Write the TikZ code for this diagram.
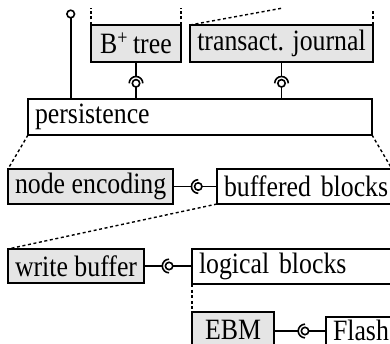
\documentclass[tikz,border=0pt]{standalone}
\usepackage{fontspec}
\setmainfont{Liberation Serif}[FakeStretch=0.875]
\usetikzlibrary{calc}
\newcommand\boxfont{\fontsize{29.5}{33}\selectfont}
\begin{document}
\begin{tikzpicture}[x=1pt,y=-1pt,
  every node/.style={font=\boxfont},
  box/.style={draw, line width=1.6pt, inner xsep=7pt, inner ysep=0pt, outer sep=0pt, anchor=north west},
  gbox/.style={box, fill=gray!20},
  wbox/.style={box, fill=white, align=left},
  conn/.style={line width=1.6pt},
  zoomline/.style={line width=1.4pt, dash pattern=on 3pt off 2.6pt}]
\useasboundingbox (0,0) rectangle (390,344);
\clip (0,0) rectangle (390,344);

% boxes
\node[gbox, minimum width=90pt, minimum height=37pt] (btree) at (91,25) {B\textsuperscript{+}\,tree};
\node[gbox, minimum width=183pt, minimum height=37pt] (tj) at (190,25) {transact. journal};
\node[wbox, text width=330pt, minimum height=36pt] (pers) at (28,99) {persistence};
\node[gbox, minimum width=164pt, minimum height=35pt] (ne) at (8,169) {node encoding};
\node[wbox, text width=161pt, minimum height=35pt] (bb) at (217,169) {\mbox{buffered blocks}};
\node[gbox, minimum width=135pt, minimum height=34pt] (wb) at (8,249) {write buffer};
\node[wbox, text width=194pt, minimum height=35pt] (lb) at (192,249) {logical blocks};
\node[gbox, minimum width=82pt, minimum height=36pt] (ebm) at (192,312) {EBM};
\node[wbox, text width=60pt, minimum height=36pt, text height=20pt, text depth=10pt] (flash) at (326,317) {Flash};

% zoom lines
\coordinate (t1) at (91,8);
\coordinate (t2) at (181,8);
\coordinate (t3) at (283,8);
\coordinate (t4) at (373,10);
\draw[zoomline] (btree.north west) -- (t1);
\draw[zoomline] (btree.north east) -- (t2);
\draw[zoomline] (tj.north west) -- (t3);
\draw[zoomline] (tj.north east) -- (t4);
\draw[zoomline] (pers.south west) -- (ne.north west);
\draw[zoomline] (pers.south east) -- (bb.north east);
\draw[zoomline] (bb.south west) -- (wb.north west);
\draw[zoomline] (lb.south west) -- (ebm.north west);

% lollipop on persistence
\coordinate (lp) at (70.7,14);
\draw[conn] (lp |- pers.north) -- ([yshift=-3.8pt]lp);
\draw[conn, fill=white] (lp) circle[radius=3.8pt];

% vertical ball-and-socket connectors
\coordinate (c1) at ($(btree.south)+(0,-21.3pt)$);
\draw[conn] (btree.south) -- ([yshift=6.8pt]c1);
\draw[conn] ([xshift=-6.8pt]c1) arc[start angle=180,end angle=0,radius=6.8pt];
\draw[conn,fill=white] (c1) circle[radius=3.7pt];
\draw[conn] ([yshift=-3.7pt]c1) -- (c1 |- pers.north);

\coordinate (c2) at ($(tj.south)+(0,-21.3pt)$);
\draw[conn] (tj.south) -- ([yshift=6.8pt]c2);
\draw[conn] ([xshift=-6.8pt]c2) arc[start angle=180,end angle=0,radius=6.8pt];
\draw[conn,fill=white] (c2) circle[radius=3.7pt];
\draw[conn] ([yshift=-3.7pt]c2) -- (c2 |- pers.north);

% horizontal ball-and-socket connectors
\coordinate (c3) at ($(ne.east)+(25pt,0)$);
\draw[conn] (ne.east) -- ([xshift=-6.8pt]c3);
\draw[conn] ([yshift=6.8pt]c3) arc[start angle=90,end angle=270,radius=6.8pt];
\draw[conn,fill=white] (c3) circle[radius=3.7pt];
\draw[conn] ([xshift=3.7pt]c3) -- (c3 -| bb.west);

\coordinate (c4) at ($(wb.east)+(25pt,0)$);
\draw[conn] (wb.east) -- ([xshift=-6.8pt]c4);
\draw[conn] ([yshift=6.8pt]c4) arc[start angle=90,end angle=270,radius=6.8pt];
\draw[conn,fill=white] (c4) circle[radius=3.7pt];
\draw[conn] ([xshift=3.7pt]c4) -- (c4 -| lb.west);

\coordinate (c5) at ($(ebm.east)+(31pt,-1pt)$);
\draw[conn] (ebm.east |- c5) -- ([xshift=-6.8pt]c5);
\draw[conn] ([yshift=6.8pt]c5) arc[start angle=90,end angle=270,radius=6.8pt];
\draw[conn,fill=white] (c5) circle[radius=3.7pt];
\draw[conn] ([xshift=3.7pt]c5) -- (c5 -| flash.west);
\end{tikzpicture}
\end{document}
